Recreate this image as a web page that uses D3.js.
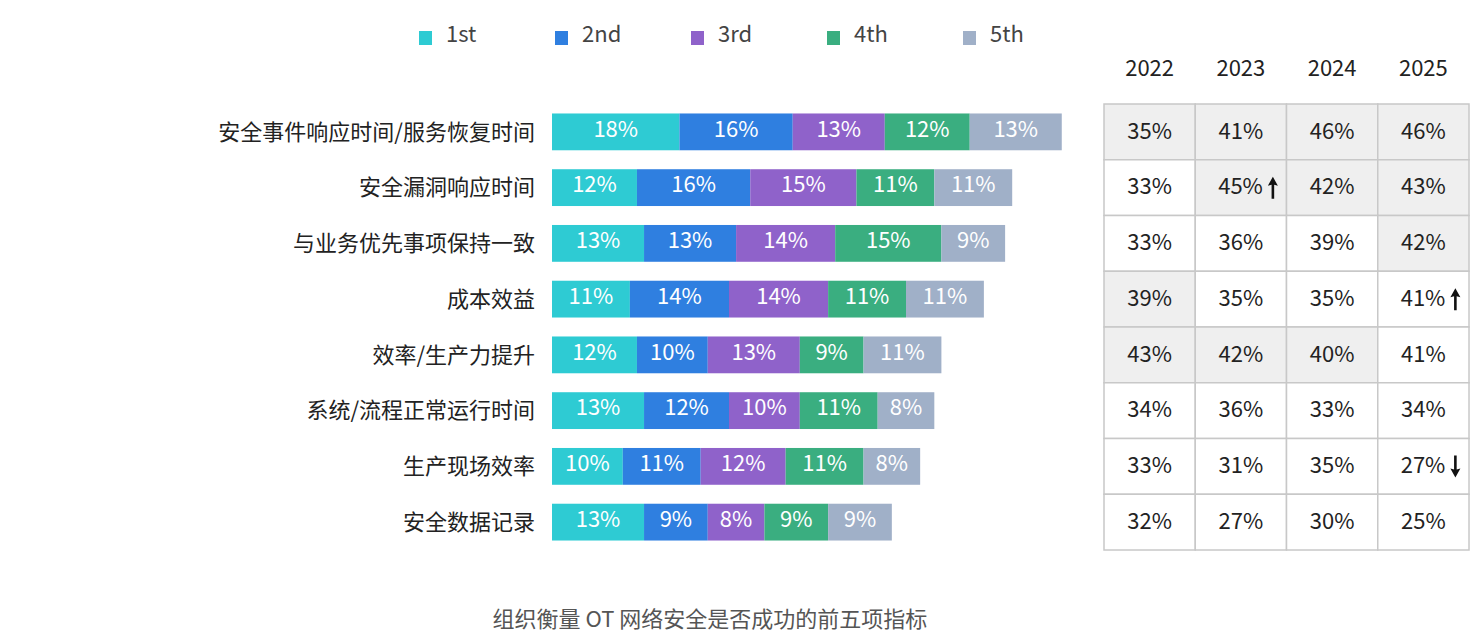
<!DOCTYPE html>
<html>
<head>
<meta charset="utf-8">
<script src="https://cdn.jsdelivr.net/npm/d3@7"></script>
<style>
  body { margin: 0; background: #fff; }
  svg text { font-family: "Noto Sans CJK SC", "Noto Sans", sans-serif; font-weight: 400; }
</style>
</head>
<body>
<svg width="1479" height="632"></svg>
<script>
const categories = [
  '安全事件响应时间/服务恢复时间',
  '安全漏洞响应时间',
  '与业务优先事项保持一致',
  '成本效益',
  '效率/生产力提升',
  '系统/流程正常运行时间',
  '生产现场效率',
  '安全数据记录'
];
const ranks = ['1st', '2nd', '3rd', '4th', '5th'];
const rankValues = [
  [18, 16, 13, 12, 13],
  [12, 16, 15, 11, 11],
  [13, 13, 14, 15, 9],
  [11, 14, 14, 11, 11],
  [12, 10, 13, 9, 11],
  [13, 12, 10, 11, 8],
  [10, 11, 12, 11, 8],
  [13, 9, 8, 9, 9]
];
const years = ['2022', '2023', '2024', '2025'];
const yearValues = [
  [35, 41, 46, 46],
  [33, 45, 42, 43],
  [33, 36, 39, 42],
  [39, 35, 35, 41],
  [43, 42, 40, 41],
  [34, 36, 33, 34],
  [33, 31, 35, 27],
  [32, 27, 30, 25]
];
// top-three highlights per year column
const highlighted = [
  [1, 1, 1, 1],
  [0, 1, 1, 1],
  [0, 0, 0, 1],
  [1, 0, 0, 0],
  [1, 1, 1, 0],
  [0, 0, 0, 0],
  [0, 0, 0, 0],
  [0, 0, 0, 0]
];
// notable change vs previous year: 1 up, -1 down
const trend = [
  [0, 0, 0, 0],
  [0, 1, 0, 0],
  [0, 0, 0, 0],
  [0, 0, 0, 1],
  [0, 0, 0, 0],
  [0, 0, 0, 0],
  [0, 0, 0, -1],
  [0, 0, 0, 0]
];
const caption = '组织衡量 OT 网络安全是否成功的前五项指标';

const colors = ['#2ecbd3', '#2f7fe0', '#8f62ca', '#3aae80', '#a0b0c8'];

const svg = d3.select('svg');

const y = d3.scaleBand()
  .domain(categories)
  .range([104, 550])
  .paddingInner(0.34)
  .paddingOuter(0.17);

const x = d3.scaleLinear()
  .domain([0, 100])
  .range([552, 1260]);

const color = d3.scaleOrdinal().domain(ranks).range(colors);

// legend
const legend = svg.append('g')
  .selectAll('g')
  .data(ranks)
  .join('g')
  .attr('transform', (d, i) => `translate(${419 + i * 136},0)`);

legend.append('rect')
  .attr('y', 31)
  .attr('width', 13)
  .attr('height', 14)
  .attr('fill', d => color(d));

legend.append('text')
  .attr('x', 27)
  .attr('y', 34)
  .attr('dy', '0.35em')
  .attr('font-size', 22)
  .attr('font-weight', 300)
  .attr('fill', '#444')
  .text(d => d);

// category labels
svg.append('g')
  .selectAll('text')
  .data(categories)
  .join('text')
  .attr('x', 535)
  .attr('y', d => y(d) + y.bandwidth() / 2)
  .attr('dy', '0.35em')
  .attr('text-anchor', 'end')
  .attr('font-size', 22)
  .attr('fill', '#222')
  .text(d => d);

// stacked bars
const rows = svg.append('g')
  .selectAll('g')
  .data(categories)
  .join('g');

rows.each(function (cat, r) {
  let acc = 0;
  const segs = rankValues[r].map((v, i) => {
    const s = {rank: ranks[i], v, x0: acc, x1: acc + v};
    acc += v;
    return s;
  });
  const g = d3.select(this);
  g.selectAll('rect')
    .data(segs)
    .join('rect')
    .attr('x', d => x(d.x0))
    .attr('y', y(cat))
    .attr('width', d => x(d.x1) - x(d.x0))
    .attr('height', y.bandwidth())
    .attr('fill', d => color(d.rank));
  g.selectAll('text')
    .data(segs)
    .join('text')
    .attr('x', d => (x(d.x0) + x(d.x1)) / 2)
    .attr('y', y(cat) + y.bandwidth() / 2 - 3)
    .attr('dy', '0.35em')
    .attr('text-anchor', 'middle')
    .attr('font-size', 22)
    .attr('font-weight', 300)
    .attr('fill', '#fff')
    .text(d => d.v + '%');
});

// table on the right
const col = d3.scaleBand()
  .domain(years)
  .range([1104, 1469]);

svg.append('g')
  .selectAll('text')
  .data(years)
  .join('text')
  .attr('x', d => col(d) + col.bandwidth() / 2)
  .attr('y', 68)
  .attr('dy', '0.35em')
  .attr('text-anchor', 'middle')
  .attr('font-size', 22)
  .attr('fill', '#222')
  .text(d => d);

const cells = [];
categories.forEach((cat, r) => {
  years.forEach((yr, c) => {
    cells.push({cat, yr, v: yearValues[r][c], hl: highlighted[r][c], t: trend[r][c]});
  });
});

const step = y.step();
const rowTop = c => y(c) + y.bandwidth() / 2 - step / 2;

const cell = svg.append('g')
  .selectAll('g')
  .data(cells)
  .join('g')
  .attr('transform', d => `translate(${col(d.yr)},${rowTop(d.cat)})`);

cell.append('rect')
  .attr('width', col.bandwidth())
  .attr('height', step)
  .attr('fill', d => d.hl ? '#efefef' : '#fff')
  .attr('stroke', '#c8c8c8')
  .attr('stroke-width', 1.5);

cell.append('text')
  .attr('x', d => d.t ? col.bandwidth() / 2 + 22 : col.bandwidth() / 2)
  .attr('y', step / 2 - 1)
  .attr('dy', '0.35em')
  .attr('text-anchor', d => d.t ? 'end' : 'middle')
  .attr('font-size', 22)
  .attr('fill', '#222')
  .text(d => d.v + '%');

cell.filter(d => d.t !== 0)
  .append('path')
  .attr('transform', d => `translate(${col.bandwidth() / 2 + 32},${step / 2}) scale(1,${d.t})`)
  .attr('d', 'M0,-11 L-5,-2 L-1.3,-3 L-1.3,11 L1.3,11 L1.3,-3 L5,-2 Z')
  .attr('fill', '#111');

// caption
svg.append('text')
  .attr('x', 710)
  .attr('y', 619)
  .attr('dy', '0.35em')
  .attr('text-anchor', 'middle')
  .attr('font-size', 22)
  .attr('fill', '#555')
  .text(caption);
</script>
</body>
</html>
